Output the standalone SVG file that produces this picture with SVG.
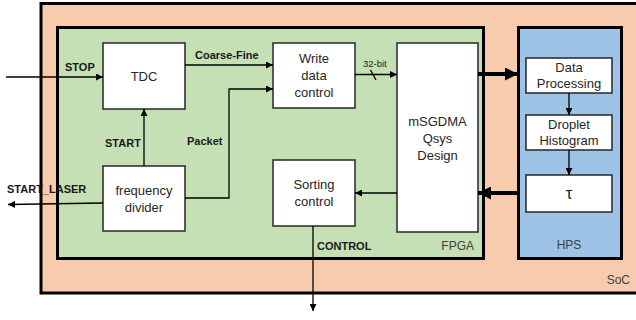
<svg xmlns="http://www.w3.org/2000/svg" width="636" height="320" viewBox="0 0 636 320">
<defs>
<style>
.box{fill:#fff;stroke:#262626;stroke-width:1.5}
.nt{font-family:"Liberation Sans",Arial,sans-serif;font-size:13px;fill:#262626;text-anchor:middle}
.lb{font-family:"Liberation Sans",Arial,sans-serif;font-size:11px;font-weight:bold;fill:#1a1a1a}
.rg{font-family:"Liberation Sans",Arial,sans-serif;font-size:12px;fill:#404040}
.ln{fill:none;stroke:#000;stroke-width:1.3}
.thick{fill:none;stroke:#000;stroke-width:4}
</style>
<marker id="ah" viewBox="0 0 10 10" refX="10" refY="5" markerWidth="8" markerHeight="7" markerUnits="userSpaceOnUse" orient="auto">
<path d="M0,0 L10,5 L0,10 z" fill="#000"/>
</marker>
<marker id="ahb" viewBox="0 0 10 10" refX="10" refY="5" markerWidth="13" markerHeight="13" markerUnits="userSpaceOnUse" orient="auto">
<path d="M0,0 L10,5 L0,10 z" fill="#000"/>
</marker>
</defs>
<rect width="636" height="320" fill="#fff"/>
<g id="soc">
<rect x="41" y="3.5" width="600" height="289.5" fill="#F8CBAD" stroke="#000" stroke-width="3"/>
<text class="rg" x="630" y="284" text-anchor="end">SoC</text>
</g>
<g id="fpga">
<rect x="57.5" y="27.5" width="426" height="231" fill="#C5E0B4" stroke="#000" stroke-width="3"/>
<text class="rg" x="474" y="250" text-anchor="end">FPGA</text>
</g>
<g id="hps">
<rect x="518.5" y="27.5" width="103" height="231" fill="#9DC3E6" stroke="#000" stroke-width="3"/>
<text class="rg" x="569" y="249" text-anchor="middle">HPS</text>
</g>
<g id="tdc">
<rect class="box" x="103" y="43" width="82" height="66"/>
<text class="nt" x="144" y="81">TDC</text>
</g>
<g id="write-data-control">
<rect class="box" x="273" y="43" width="82" height="65"/>
<text class="nt" x="314" y="63">Write</text>
<text class="nt" x="314" y="80">data</text>
<text class="nt" x="314" y="97">control</text>
</g>
<g id="msgdma">
<rect class="box" x="397" y="43" width="81" height="189"/>
<text class="nt" x="437.5" y="126">mSGDMA</text>
<text class="nt" x="437.5" y="143">Qsys</text>
<text class="nt" x="437.5" y="160">Design</text>
</g>
<g id="frequency-divider">
<rect class="box" x="103" y="166" width="82" height="65"/>
<text class="nt" x="144" y="195">frequency</text>
<text class="nt" x="144" y="212">divider</text>
</g>
<g id="sorting-control">
<rect class="box" x="273" y="160" width="82" height="66"/>
<text class="nt" x="314" y="189">Sorting</text>
<text class="nt" x="314" y="206">control</text>
</g>
<g id="data-processing">
<rect class="box" x="526" y="58" width="86" height="35"/>
<text class="nt" x="569" y="72">Data</text>
<text class="nt" x="569" y="88">Processing</text>
</g>
<g id="droplet-histogram">
<rect class="box" x="526" y="115" width="86" height="35"/>
<text class="nt" x="569" y="129">Droplet</text>
<text class="nt" x="569" y="145">Histogram</text>
</g>
<g id="tau">
<rect class="box" x="526" y="175" width="86" height="37"/>
<text class="nt" x="569" y="199" style="font-size:17px">τ</text>
</g>
<g id="connectors">
<line class="ln" x1="6" y1="77" x2="103" y2="77" marker-end="url(#ah)"/>
<text class="lb" x="65" y="71">STOP</text>
<line class="ln" x1="185" y1="65" x2="273" y2="65" marker-end="url(#ah)"/>
<text class="lb" x="195" y="59">Coarse-Fine</text>
<line class="ln" x1="144" y1="166" x2="144" y2="109" marker-end="url(#ah)"/>
<text class="lb" x="105" y="147">START</text>
<polyline class="ln" points="185,198 229,198 229,89 273,89" marker-end="url(#ah)"/>
<text class="lb" x="187" y="145">Packet</text>
<line class="ln" x1="103" y1="203" x2="8" y2="204.5" marker-end="url(#ah)"/>
<text class="lb" x="7" y="193">START_LASER</text>
<line class="ln" x1="355" y1="74.5" x2="397" y2="74.5" marker-end="url(#ah)"/>
<line class="ln" x1="370.5" y1="70" x2="376" y2="80"/>
<text x="363" y="67" font-family="'Liberation Sans',Arial,sans-serif" font-size="9.5" fill="#262626">32-bit</text>
<line class="thick" x1="478" y1="74" x2="518" y2="74" marker-end="url(#ahb)"/>
<line class="thick" x1="518" y1="193" x2="478" y2="193" marker-end="url(#ahb)"/>
<line class="ln" x1="397" y1="193" x2="355" y2="193" marker-end="url(#ah)"/>
<line class="ln" x1="313" y1="226" x2="313" y2="311" marker-end="url(#ah)"/>
<text class="lb" x="317" y="250">CONTROL</text>
<line class="ln" x1="569" y1="93" x2="569" y2="115" marker-end="url(#ah)"/>
<line class="ln" x1="569" y1="150" x2="569" y2="175" marker-end="url(#ah)"/>
</g>
</svg>
